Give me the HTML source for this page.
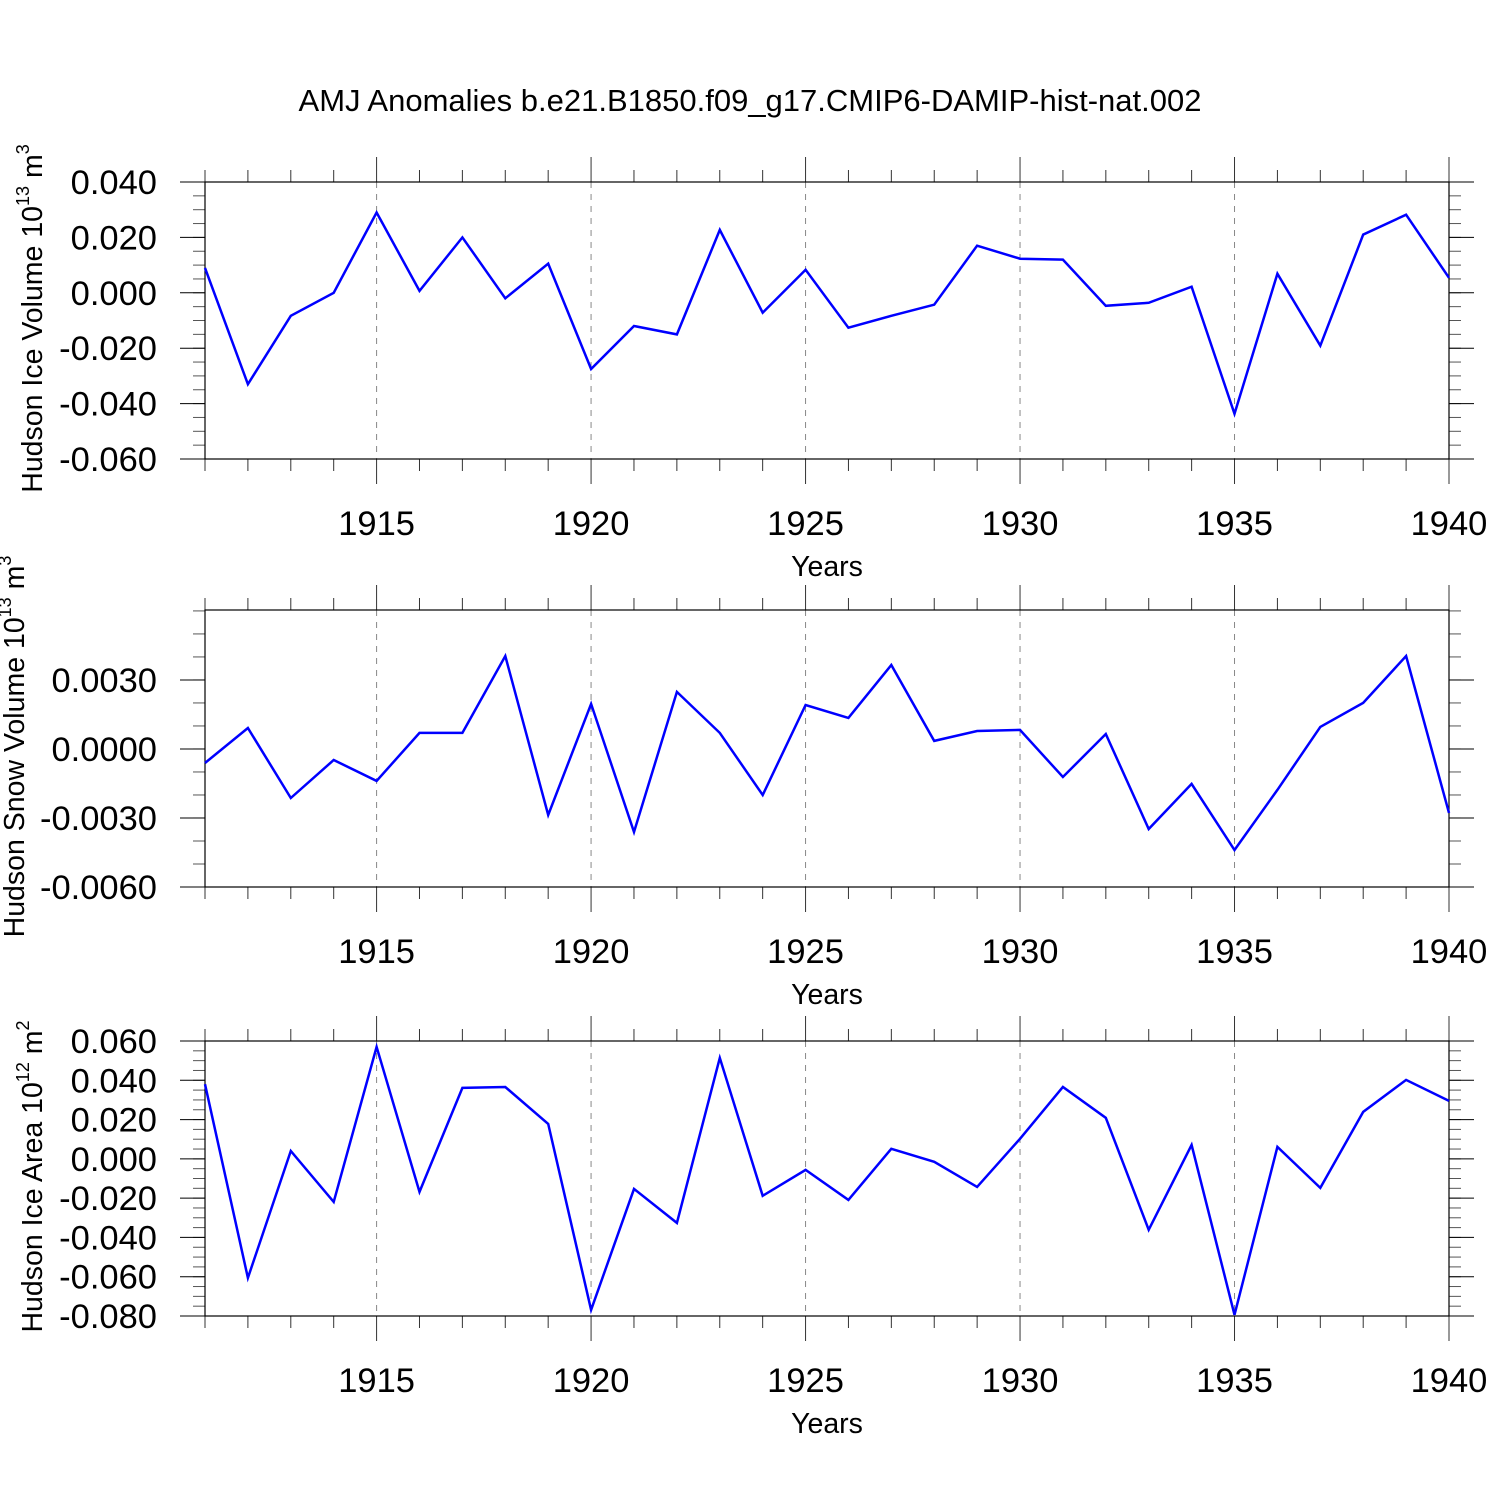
<!DOCTYPE html>
<html><head><meta charset="utf-8"><style>
html,body{margin:0;padding:0;background:#fff;}
svg{display:block;font-family:"Liberation Sans",sans-serif;}
</style></head><body>
<svg id="chart" width="1500" height="1500" viewBox="0 0 1500 1500" xmlns="http://www.w3.org/2000/svg">
<rect width="1500" height="1500" fill="#fff"/>
<text x="750" y="111" text-anchor="middle" font-size="31">AMJ Anomalies b.e21.B1850.f09_g17.CMIP6-DAMIP-hist-nat.002</text>
</svg>
<script>
const years = [1911,1912,1913,1914,1915,1916,1917,1918,1919,1920,1921,1922,1923,1924,1925,1926,1927,1928,1929,1930,1931,1932,1933,1934,1935,1936,1937,1938,1939,1940];
const iceVolume = [0.009,-0.033,-0.0083,0.0,0.029,0.0007,0.020,-0.002,0.0105,-0.0275,-0.012,-0.015,0.0227,-0.0072,0.0083,-0.0126,-0.0083,-0.0043,0.017,0.0123,0.012,-0.0047,-0.0036,0.0022,-0.0437,0.0069,-0.0191,0.021,0.0282,0.0054];
const snowVolume = [-0.00061,0.00091,-0.00213,-0.00048,-0.00139,0.0007,0.0007,0.00404,-0.00287,0.00196,-0.00361,0.00248,0.0007,-0.002,0.00191,0.00135,0.00365,0.00035,0.00078,0.00083,-0.00122,0.00065,-0.00348,-0.00152,-0.00439,-0.00178,0.00096,0.002,0.00404,-0.00278];
const iceArea = [0.038,-0.0606,0.004,-0.0219,0.057,-0.0168,0.0361,0.0366,0.0178,-0.0769,-0.0153,-0.0326,0.0514,-0.0188,-0.0056,-0.0209,0.0051,-0.0015,-0.0143,0.0102,0.0366,0.0209,-0.0361,0.0071,-0.0794,0.0061,-0.0148,0.0239,0.0402,0.0295];
const xTickLabels = ["1915","1920","1925","1930","1935","1940"];
const iceVolTicks = [0.04,0.02,0.0,-0.02,-0.04,-0.06];
const iceVolLabels = ["0.040","0.020","0.000","-0.020","-0.040","-0.060"];
const snowTicks = [0.003,0.0,-0.003,-0.006];
const snowLabels = ["0.0030","0.0000","-0.0030","-0.0060"];
const areaTicks = [0.06,0.04,0.02,0.0,-0.02,-0.04,-0.06,-0.08];
const areaLabels = ["0.060","0.040","0.020","0.000","-0.020","-0.040","-0.060","-0.080"];

const NS="http://www.w3.org/2000/svg";
const svg=document.getElementById('chart');
const X0=205,X1=1449;
function xs(y){return X0+(y-1911)/(1940-1911)*(X1-X0);}
function mk(tag,attrs,parent){const e=document.createElementNS(NS,tag);for(const k in attrs)e.setAttribute(k,attrs[k]);(parent||svg).appendChild(e);return e;}

function panel(id,top,bot,ymin,ymax,data,ticks,labels,minorStep,title,sup,unit,titleX){
  const g=mk('g',{});
  
  
  const ys=v=>bot-(v-ymin)/(ymax-ymin)*(bot-top);
  for(let yr=1915;yr<=1935;yr+=5){
    const l=mk('line',{x1:xs(yr),x2:xs(yr),y1:top,y2:bot,stroke:'#888','stroke-width':1,'stroke-dasharray':'6,6'},g);
    
    
  }
  for(let yr=1911;yr<=1940;yr++){
    const major=(yr%5===0);const len=major?25:12;
    mk('line',{x1:xs(yr),x2:xs(yr),y1:top,y2:top-len,stroke:'#333','stroke-width':1},g);
    mk('line',{x1:xs(yr),x2:xs(yr),y1:bot,y2:bot+len,stroke:'#333','stroke-width':1},g);
  }
  xTickLabels.forEach(t=>{
    const tx=mk('text',{x:xs(+t),y:bot+76,'text-anchor':'middle','font-size':34.5},g);
    
    
    tx.textContent=t;
  });
  const xt=mk('text',{x:827,y:bot+117,'text-anchor':'middle','font-size':28.5},g);
  
  
  xt.textContent='Years';
  for(let v=ymin;v<=ymax+1e-9;v+=minorStep){
    const y=ys(v);
    mk('line',{x1:X0,x2:X0-12,y1:y,y2:y,stroke:'#555','stroke-width':1},g);
    mk('line',{x1:X1,x2:X1+12,y1:y,y2:y,stroke:'#555','stroke-width':1},g);
  }
  ticks.forEach((v,i)=>{
    const y=ys(v);
    mk('line',{x1:X0,x2:X0-25,y1:y,y2:y,stroke:'#000','stroke-width':1},g);
    mk('line',{x1:X1,x2:X1+25,y1:y,y2:y,stroke:'#000','stroke-width':1},g);
    const tx=mk('text',{x:157,y:y+12,'text-anchor':'end','font-size':34.5},g);
    
    
    tx.textContent=labels[i];
  });
  const fr=mk('rect',{x:X0,y:top,width:X1-X0,height:bot-top,fill:'none',stroke:'#000','stroke-width':1.2},g);
  
  
  const pts=data.map((v,i)=>xs(years[i]).toFixed(1)+','+ys(v).toFixed(1)).join(' ');
  const pl=mk('polyline',{points:pts,fill:'none',stroke:'#0000ff','stroke-width':2.5,'stroke-linejoin':'miter'},g);
  
  
  const cy=(top+bot)/2-2;
  const yt=mk('text',{x:0,y:0,'text-anchor':'middle','font-size':28.5,transform:`translate(${titleX},${cy}) rotate(-90)`},g);
  
  
  yt.innerHTML=title+' 10<tspan dy="-13" font-size="18">'+sup+'</tspan><tspan dy="13"> '+unit+'</tspan><tspan dy="-13" font-size="18">'+(sup==='12'?'2':'3')+'</tspan>';
}
panel('ice-volume',182,459,-0.06,0.04,iceVolume,iceVolTicks,iceVolLabels,0.005,'Hudson Ice Volume','13','m',42);
panel('snow-volume',610,887,-0.006,0.00604,snowVolume,snowTicks,snowLabels,0.001,'Hudson Snow Volume','13','m',24);
panel('ice-area',1041,1316,-0.08,0.06,iceArea,areaTicks,areaLabels,0.005,'Hudson Ice Area','12','m',42);
</script>
</body></html>
